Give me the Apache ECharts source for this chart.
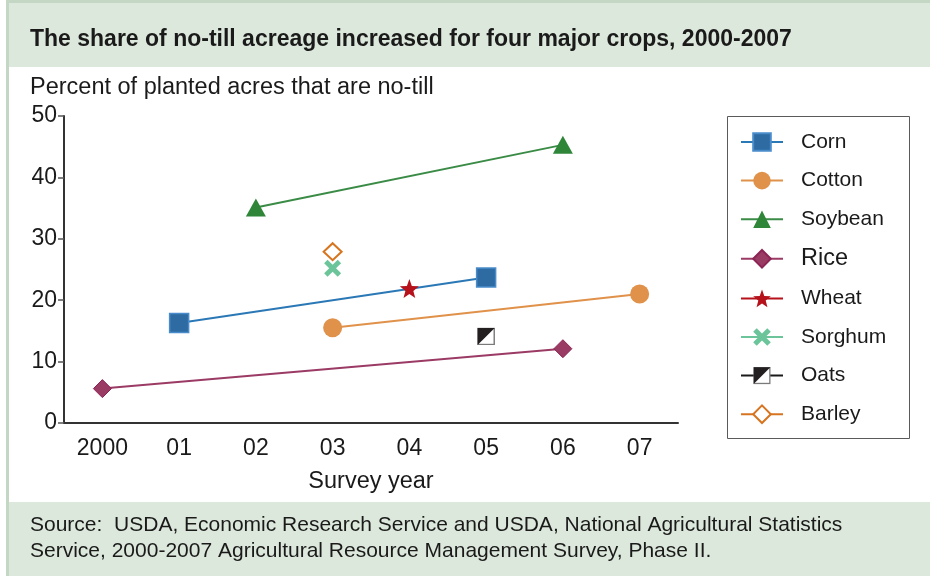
<!DOCTYPE html>
<html>
<head>
<meta charset="utf-8">
<script src="https://cdn.jsdelivr.net/npm/echarts@6/dist/echarts.min.js"></script>
<style>
  html, body { margin: 0; padding: 0; background: #ffffff; }
  #chart { width: 930px; height: 576px; }
</style>
</head>
<body>
<div id="chart"></div>
<script>
// Survey years on the x axis
const years = ['2000', '01', '02', '03', '04', '05', '06', '07'];

// Percent of planted acres that are no-till, by crop (null = not surveyed)
const corn    = [null, 16.3, null, null, null, 23.7, null, null];
const cotton  = [null, null, null, 15.5, null, null, null, 21.0];
const soybean = [null, null, 35.1, null, null, null, 45.3, null];
const rice    = [5.6, null, null, null, null, null, 12.1, null];
const wheat   = [null, null, null, null, 21.9, null, null, null];
const sorghum = [null, null, null, 25.2, null, null, null, null];
const oats    = [null, null, null, null, null, 14.1, null, null];
const barley  = [null, null, null, 27.9, null, null, null, null];

const yTicks = { min: 0, max: 50, interval: 10 };

const FONT = '"Liberation Sans", Arial, Helvetica, sans-serif';

// five-pointed star symbol
function starPath() {
  const pts = [];
  for (let i = 0; i < 10; i++) {
    const r = i % 2 === 0 ? 10 : 4.2;
    const a = -Math.PI / 2 + i * Math.PI / 5;
    pts.push((10 + r * Math.cos(a)).toFixed(2) + ',' + (10 + r * Math.sin(a)).toFixed(2));
  }
  return 'path://M' + pts.join(' L') + ' Z';
}
const crossPath = 'path://M0,2 L2,0 L5,3 L8,0 L10,2 L7,5 L10,8 L8,10 L5,7 L2,10 L0,8 L3,5 Z';
const halfSquareSvg = "<svg xmlns='http://www.w3.org/2000/svg' width='20' height='20'>" +
  "<rect x='1' y='1' width='18' height='18' fill='#ffffff' stroke='#7a7a7a' stroke-width='1.6'/>" +
  "<path d='M0.5,0.5 H19.5 L0.5,19.5 Z' fill='#231f20'/></svg>";
const halfSquare = 'image://data:image/svg+xml;charset=utf-8,' + encodeURIComponent(halfSquareSvg);

function crop(name, data, color, symbol, size, itemStyle) {
  return {
    name: name,
    type: 'line',
    data: data,
    connectNulls: true,
    symbol: symbol,
    symbolSize: size,
    showAllSymbol: true,
    lineStyle: { color: color, width: 2 },
    itemStyle: Object.assign({ color: color, opacity: 1 }, itemStyle || {}),
    emphasis: { disabled: true },
    z: 3
  };
}

const chart = echarts.init(document.getElementById('chart'), null, { renderer: 'canvas' });

chart.setOption({
  animation: false,
  backgroundColor: '#ffffff',
  textStyle: { fontFamily: FONT },
  graphic: [
    // top and left frame lines
    { type: 'rect', shape: { x: 6, y: 0, width: 924, height: 3 }, style: { fill: '#c4d7c4' }, z: -2 },
    { type: 'rect', shape: { x: 6, y: 0, width: 3, height: 576 }, style: { fill: '#c4d7c4' }, z: -2 },
    // title band
    { type: 'rect', shape: { x: 9, y: 3, width: 921, height: 64 }, style: { fill: '#dde8dc' }, z: -2 },
    // source band
    { type: 'rect', shape: { x: 9, y: 502, width: 921, height: 74 }, style: { fill: '#dde8dc' }, z: -2 },
    {
      type: 'text', left: 30, top: 28,
      style: { text: 'The share of no-till acreage increased for four major crops, 2000-2007',
               font: 'bold 23px ' + FONT, fill: '#1a1a1a' }
    },
    {
      type: 'text', left: 30, top: 76,
      style: { text: 'Percent of planted acres that are no-till', font: '23.5px ' + FONT, fill: '#1a1a1a' }
    },
    {
      type: 'text', left: 30, top: 512,
      style: { text: 'Source:  USDA, Economic Research Service and USDA, National Agricultural Statistics\nService, 2000-2007 Agricultural Resource Management Survey, Phase II.',
               font: '21px ' + FONT, fill: '#1a1a1a', lineHeight: 26 }
    },
    // legend frame
    { type: 'rect', shape: { x: 727.5, y: 116.5, width: 182, height: 322 },
      style: { fill: 'none', stroke: '#5a5a5a', lineWidth: 1 }, z: 1 }
  ],
  grid: { left: 64, right: 252, top: 116, bottom: 153, containLabel: false },
  xAxis: {
    type: 'category',
    data: years,
    boundaryGap: true,
    name: 'Survey year',
    nameLocation: 'middle',
    nameGap: 47,
    nameTextStyle: { fontSize: 23.5, color: '#1a1a1a', fontFamily: FONT },
    axisLine: { lineStyle: { color: '#333333', width: 2 } },
    axisTick: { alignWithLabel: true, length: 6, lineStyle: { color: '#555555', width: 1.5 } },
    axisLabel: { fontSize: 23, color: '#1a1a1a', margin: 14, fontFamily: FONT },
    splitLine: { show: false }
  },
  yAxis: {
    type: 'value',
    min: yTicks.min, max: yTicks.max, interval: yTicks.interval,
    axisLine: { show: true, lineStyle: { color: '#333333', width: 2 } },
    axisTick: { show: true, length: 6, lineStyle: { color: '#555555', width: 1.5 } },
    axisLabel: { fontSize: 23, color: '#1a1a1a', margin: 7, padding: [3, 0, 0, 0], fontFamily: FONT },
    splitLine: { show: false }
  },
  legend: {
    orient: 'vertical',
    left: 740,
    top: 131,
    padding: 0,
    itemWidth: 42,
    itemHeight: 22,
    itemGap: 16.6,
    selectedMode: false,
    textStyle: {
      fontSize: 21, color: '#1a1a1a', fontFamily: FONT, lineHeight: 22,
      padding: [0, 0, 0, 13],
      rich: { big: { fontSize: 23.5, lineHeight: 22, color: '#1a1a1a', fontFamily: FONT } }
    },
    formatter: function (name) { return name === 'Rice' ? '{big|Rice}' : name; },
    data: ['Corn', 'Cotton', 'Soybean', 'Rice', 'Wheat', 'Sorghum', 'Oats', 'Barley']
  },
  series: [
    crop('Corn', corn, '#2b78b6', 'rect', 19, { color: '#2d6ba2', borderColor: '#4a8ccb', borderWidth: 1.5 }),
    crop('Cotton', cotton, '#e0914a', 'circle', 19),
    crop('Soybean', soybean, '#3a8b45', 'triangle', [20, 18], { color: '#2f8638' }),
    crop('Rice', rice, '#9b3a64', 'diamond', 18, { color: '#9a3b63', borderColor: '#8c2455', borderWidth: 1 }),
    crop('Wheat', wheat, '#b5121b', starPath(), 19),
    crop('Sorghum', sorghum, '#6cc59a', crossPath, 17),
    crop('Oats', oats, '#1a1a1a', halfSquare, 18),
    crop('Barley', barley, '#d6741f', 'diamond', [18, 17], { color: '#ffffff', borderColor: '#d6741f', borderWidth: 2 })
  ]
});
</script>
</body>
</html>
